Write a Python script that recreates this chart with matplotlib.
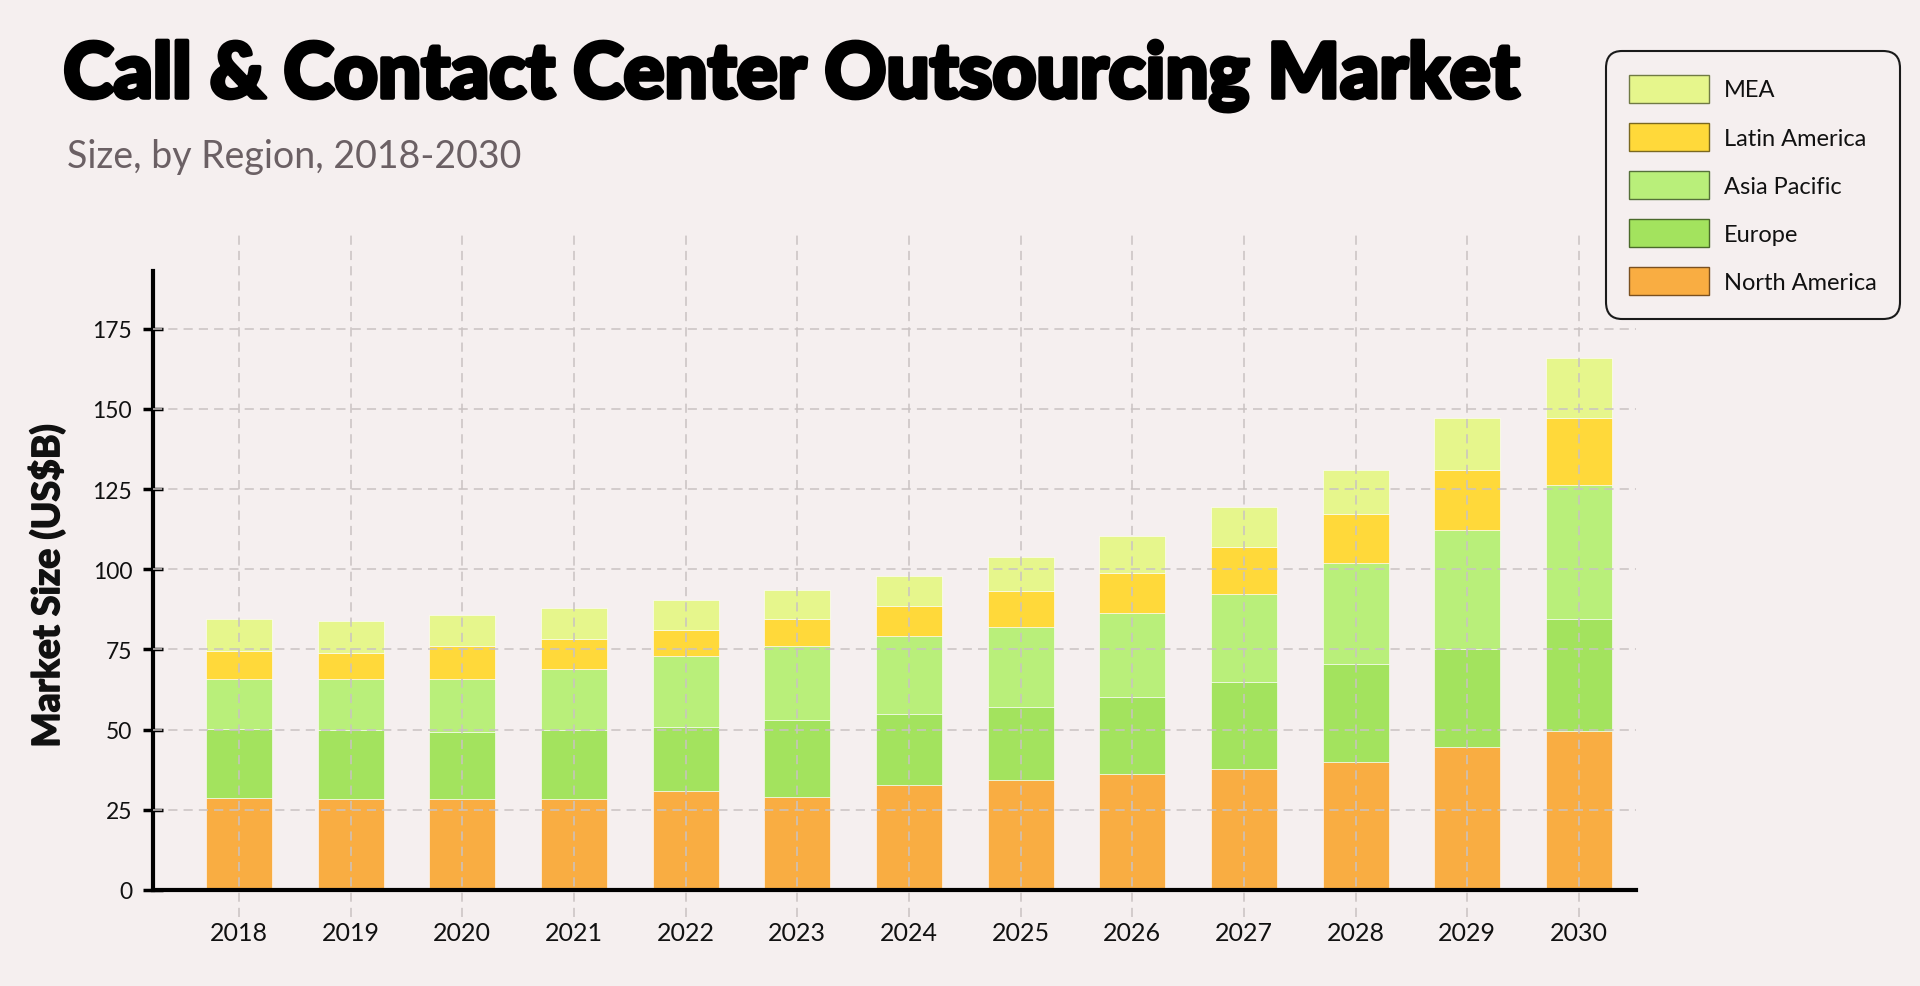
import numpy as np
import matplotlib
matplotlib.use("Agg")
import matplotlib.pyplot as plt
import matplotlib.patheffects as pe

years = ["2018", "2019", "2020", "2021", "2022", "2023", "2024",
         "2025", "2026", "2027", "2028", "2029", "2030"]

# segment sizes, US$B
north_america = [28.7, 28.4, 28.4, 28.4, 30.8, 28.9, 32.6, 34.2, 36.2, 37.8, 39.9, 44.6, 49.6]
europe        = [21.4, 21.4, 21.0, 21.4, 20.0, 24.1, 22.4, 23.0, 24.1, 27.0, 30.7, 30.4, 35.0]
asia_pacific  = [15.6, 16.0, 16.4, 19.0, 22.2, 23.0, 24.1, 24.9, 26.1, 27.4, 31.3, 37.2, 41.6]
latin_america = [ 8.9,  8.1, 10.3,  9.3,  8.2,  8.5,  9.4, 11.2, 12.4, 14.8, 15.3, 18.8, 20.9]
mea           = [ 9.8, 10.0,  9.7,  9.7,  9.1,  9.1,  9.4, 10.5, 11.7, 12.5, 13.8, 16.1, 18.9]

regions = ["North America", "Europe", "Asia Pacific", "Latin America", "MEA"]
series = [north_america, europe, asia_pacific, latin_america, mea]
colors = ["#F9AD42", "#A3E35E", "#B9EF7A", "#FFD93A", "#E6F68C"]
edges = ["#7a5020", "#4a6a2a", "#55703a", "#7a6820", "#707a45"]

BG = "#F5EFEF"
GRID = "#C9C2C2"

plt.rcParams["font.family"] = ["Lato", "DejaVu Sans"]

fig = plt.figure(figsize=(19.2, 9.87), dpi=100, facecolor=BG)
ax = fig.add_axes([0.0797, 0.0973, 0.7723, 0.6271], facecolor=BG)

x = np.arange(len(years))
bottom = np.zeros(len(years))
handles = []
for name, vals, c, ec in zip(regions, series, colors, edges):
    vals = np.array(vals)
    ax.bar(x, vals, width=0.59, bottom=bottom, color=c, edgecolor="white",
           linewidth=0.4, label=name, zorder=2)
    handles.append(plt.Rectangle((0, 0), 1, 1, facecolor=c, edgecolor=ec, linewidth=1.0))
    bottom += vals

ax.set_xlim(-0.77, 12.51)
ax.set_ylim(0, 193)

# grid
ax.set_yticks([0, 25, 50, 75, 100, 125, 150, 175])
for yv in [25, 50, 75, 100, 125, 150, 175]:
    ax.axhline(yv, color=GRID, linestyle=(0, (6, 4)), linewidth=1.1, zorder=3)
ax.vlines(x, -8.5, 205, colors=GRID, linestyles=(0, (6, 4)), linewidth=1.1,
          clip_on=False, zorder=3)

ax.set_xticks(x)
ax.set_xticklabels(years)
ax.tick_params(axis="x", length=0, pad=22, labelsize=18, labelcolor="#111111")
ax.tick_params(axis="y", direction="inout", length=14, width=2.5, pad=8,
               labelsize=16.5, labelcolor="#111111")

for s in ["top", "right"]:
    ax.spines[s].set_visible(False)
ax.spines["left"].set_linewidth(3)
ax.spines["bottom"].set_linewidth(3)

fig.text(0.024, 0.405, "Market Size (US$B)", rotation=90, ha="center", va="center",
         fontsize=27, fontweight="bold", color="#111111",
         path_effects=[pe.withStroke(linewidth=1.2, foreground="#111111")])

fig.text(0.033, 0.9, "Call & Contact Center Outsourcing Market", fontsize=55,
         fontweight="black", color="black", ha="left", va="baseline",
         path_effects=[pe.withStroke(linewidth=3, foreground="black")])
fig.text(0.035, 0.83, "Size, by Region, 2018-2030", fontsize=27,
         fontweight="normal", color="#6B6064", ha="left", va="baseline")

leg = fig.legend(handles[::-1], regions[::-1], loc="upper right",
                 bbox_to_anchor=(1900 / 1920, 1 - 52 / 987), fontsize=17,
                 frameon=True, fancybox=True, facecolor=BG, edgecolor="#1a1a1a",
                 handlelength=3.4, handleheight=1.45, labelspacing=0.85,
                 handletextpad=0.6, borderpad=1.0, borderaxespad=0, framealpha=1)
leg.get_frame().set_linewidth(1.5)
leg.get_frame().set_boxstyle("round,pad=0,rounding_size=0.7")
for t in leg.get_texts():
    t.set_color("#111111")

fig.savefig("out.png", dpi=100, facecolor=BG)
